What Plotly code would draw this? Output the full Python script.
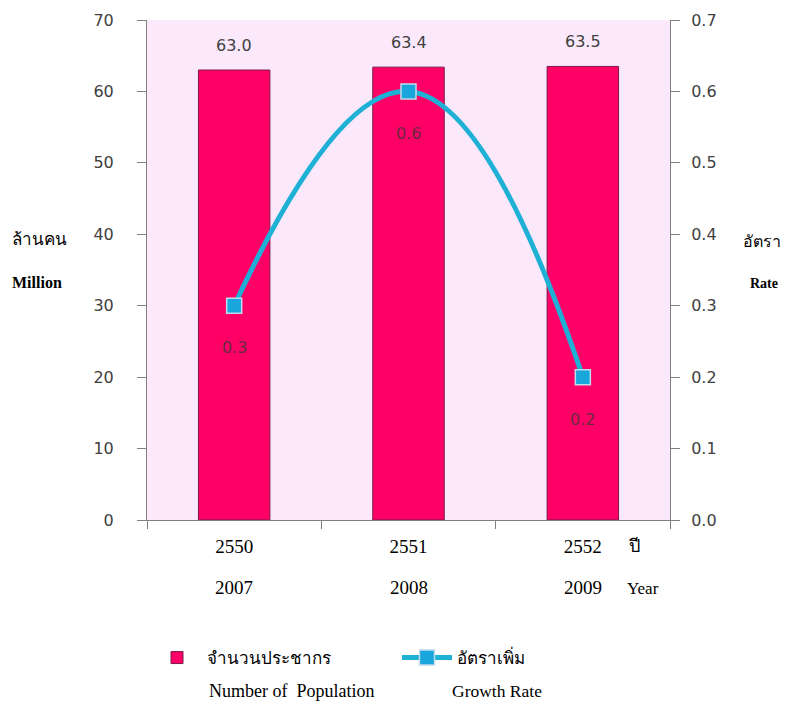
import plotly.graph_objects as go

years_be = ["2550", "2551", "2552"]
years_ce = ["2007", "2008", "2009"]
population = [63.0, 63.4, 63.5]
growth_rate = [0.3, 0.6, 0.2]

serif = "Liberation Serif, Times New Roman, serif"
sans = "DejaVu Sans, Verdana, sans-serif"

cats = [f"{a} / {b}" for a, b in zip(years_be, years_ce)]

fig = go.Figure()
fig.add_trace(go.Bar(
    x=cats, y=population, name="จำนวนประชากร",
    marker=dict(color="#ff0066", line=dict(color="#7a1a48", width=1)),
    width=0.41, yaxis="y",
))
fig.add_trace(go.Scatter(
    x=cats, y=growth_rate, name="อัตราเพิ่ม", yaxis="y2",
    mode="lines+markers",
    line=dict(color="#1fb0d6", width=5, shape="spline", smoothing=1.3),
    marker=dict(symbol="square", size=15, color="#19a6dc",
                line=dict(color="#c0dcec", width=1.5)),
))

ann = []
for xv, v in zip(cats, population):
    ann.append(dict(x=xv, y=v, xref="x", yref="y", text=f"{v:.1f}", showarrow=False,
                    yshift=25, font=dict(family=sans, size=16, color="#404040")))
for xv, v in zip(cats, growth_rate):
    ann.append(dict(x=xv, y=v, xref="x", yref="y2", text=f"{v:.1f}", showarrow=False,
                    yshift=-42, font=dict(family=sans, size=16, color="#6a2a40")))
for xv, ce in zip(cats, years_ce):
    ann.append(dict(x=xv, y=-0.16, xref="x", yref="paper", text=ce, showarrow=False,
                    font=dict(family=serif, size=19, color="#000")))

ann += [
    dict(x=-0.262, y=0.56, xref="paper", yref="paper", text="ล้านคน", showarrow=False,
         xanchor="left", font=dict(family=serif, size=17, color="#000")),
    dict(x=-0.262, y=0.476, xref="paper", yref="paper", text="<b>Million</b>", showarrow=False,
         xanchor="left", font=dict(family=serif, size=16, color="#000")),
    dict(x=1.175, y=0.556, xref="paper", yref="paper", text="อัตรา", showarrow=False,
         xanchor="center", font=dict(family=serif, size=16, color="#000")),
    dict(x=1.18, y=0.474, xref="paper", yref="paper", text="<b>Rate</b>", showarrow=False,
         xanchor="center", font=dict(family=serif, size=14, color="#000")),
    dict(x=0.933, y=-0.075, xref="paper", yref="paper", text="ปี", showarrow=False,
         xanchor="center", font=dict(family=serif, size=18, color="#000")),
    dict(x=0.948, y=-0.16, xref="paper", yref="paper", text="Year", showarrow=False,
         xanchor="center", font=dict(family=serif, size=17, color="#000")),
    dict(x=0.115, y=-0.366, xref="paper", yref="paper", text="Number of  Population", showarrow=False,
         xanchor="left", font=dict(family=serif, size=18, color="#000")),
    dict(x=0.58, y=-0.366, xref="paper", yref="paper", text="Growth Rate", showarrow=False,
         xanchor="left", font=dict(family=serif, size=17.5, color="#000")),
]

fig.update_layout(
    width=789, height=708,
    margin=dict(l=139, r=127, t=12, b=196, autoexpand=False),
    paper_bgcolor="white", plot_bgcolor="#fbe9fb",
    showlegend=True,
    legend=dict(orientation="h", x=0.0, y=-0.24, xanchor="left", yanchor="top",
                font=dict(family=serif, size=17, color="#000"),
                entrywidth=185, itemwidth=50, bgcolor="rgba(0,0,0,0)"),
    xaxis=dict(
        type="category", automargin=False,
        tickmode="array", tickvals=cats, ticktext=years_be,
        tickfont=dict(family=serif, size=19, color="#000"),
        showline=True, linecolor="#808080", linewidth=1,
        ticks="outside", tickson="boundaries", ticklen=8, tickcolor="#808080",
        ticklabelstandoff=9,
        showgrid=False, tickangle=0,
    ),
    yaxis=dict(
        range=[0, 70], dtick=10, showgrid=False, automargin=False,
        showline=True, linecolor="#808080", linewidth=1,
        ticks="outside", ticklen=9, tickcolor="#808080",
        ticklabelstandoff=20,
        tickfont=dict(family=sans, size=16, color="#404040"),
        zeroline=False,
    ),
    yaxis2=dict(
        range=[0, 0.7], dtick=0.1, tickformat=".1f", overlaying="y", side="right",
        showgrid=False, showline=True, linecolor="#808080", linewidth=1,
        automargin=False,
        ticks="outside", ticklen=9, tickcolor="#808080",
        ticklabelstandoff=8,
        tickfont=dict(family=sans, size=16, color="#404040"),
        zeroline=False,
    ),
    annotations=ann,
)

fig.write_html("out.html")
